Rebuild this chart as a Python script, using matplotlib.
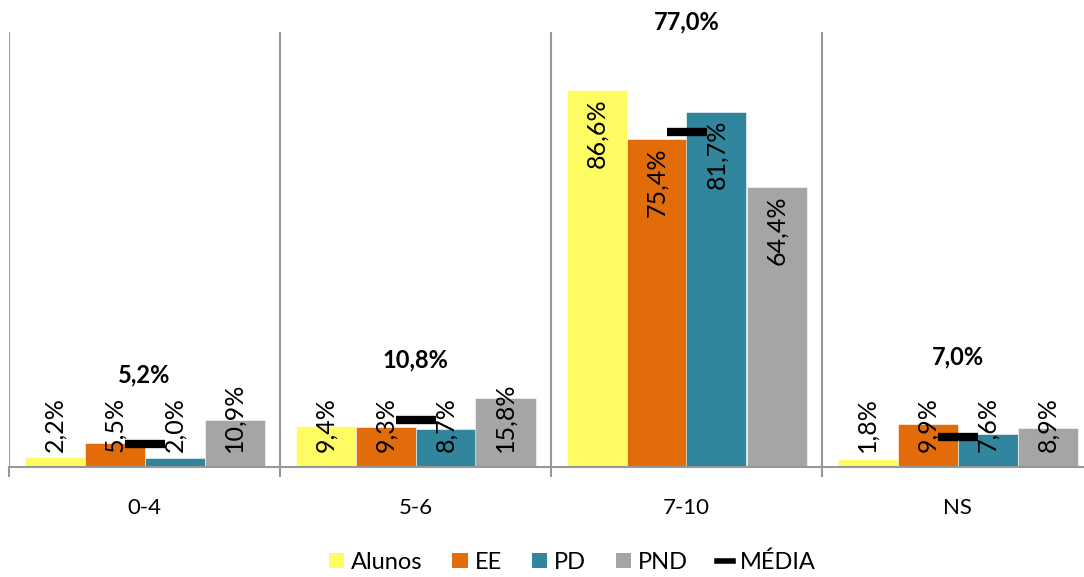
import numpy as np
import matplotlib.pyplot as plt
from matplotlib.lines import Line2D
from matplotlib.patches import Patch

plt.rcParams['font.family'] = ['Lato', 'DejaVu Sans']

# dados
categorias = ['0-4', '5-6', '7-10', 'NS']
series = ['Alunos', 'EE', 'PD', 'PND']
alunos = [2.2, 9.4, 86.6, 1.8]
ee = [5.5, 9.3, 75.4, 9.9]
pd_ = [2.0, 8.7, 81.7, 7.6]
pnd = [10.9, 15.8, 64.4, 8.9]
media = [5.2, 10.8, 77.0, 7.0]

valores = [alunos, ee, pd_, pnd]
cores = ['#FFFB62', '#E36C0A', '#31859C', '#A5A5A5']
# deslocamento vertical (pt) dos rótulos da média
desloc_media = [50, 43, 79, 57]


def fmt(v):
    return f'{v:.1f}%'.replace('.', ',')


fig = plt.figure(figsize=(10.84, 5.77), dpi=100)
ax = fig.add_axes([9 / 1084, 1 - 467 / 577, 1084 / 1084, 435 / 577])

x = np.arange(len(categorias))
w = 60 / 271

for j, (vals, cor) in enumerate(zip(valores, cores)):
    pos = x + (j - 1.5) * w
    ax.bar(pos, vals, width=w, color=cor, edgecolor='white', linewidth=0.4, zorder=2)
    for xi, v in zip(pos, vals):
        if v > 30:
            ax.annotate(fmt(v), (xi, v), xytext=(0, -6), textcoords='offset points',
                        rotation=90, ha='center', va='top', fontsize=18, zorder=4)
        else:
            ax.annotate(fmt(v), (xi, 0), xytext=(0, 11), textcoords='offset points',
                        rotation=90, ha='center', va='bottom', fontsize=18, zorder=4)

ax.plot(x, media, linestyle='none', marker='_', markersize=29, markeredgewidth=6,
        color='black', zorder=5)
for xi, m, d in zip(x, media, desloc_media):
    ax.annotate(fmt(m), (xi, m), xytext=(0, d), textcoords='offset points',
                ha='center', va='center', fontsize=17, fontweight='bold',
                annotation_clip=False)

ax.set_xlim(-0.5, 3.5)
ax.set_ylim(0, 100)
ax.set_yticks([])
ax.set_xticks(x)
ax.set_xticklabels(categorias, fontsize=16)
ax.tick_params(axis='x', which='major', length=0, pad=22)
ax.set_xticks([-0.5, 0.5, 1.5, 2.5], minor=True)
ax.tick_params(axis='x', which='minor', length=7, width=1.5, color='#989898')
ax.grid(which='minor', axis='x', color='#989898', linewidth=1.5, zorder=0)
for s in ['top', 'right', 'left']:
    ax.spines[s].set_visible(False)
ax.spines['bottom'].set_color('#989898')
ax.spines['bottom'].set_linewidth(1.5)
ax.spines['bottom'].set_zorder(3)

handles = [Patch(facecolor=c, label=s) for c, s in zip(cores, series)]
handles.append(Line2D([], [], color='black', linewidth=4, label='MÉDIA'))
fig.legend(handles=handles, loc='center', bbox_to_anchor=(0.528, 1 - 562 / 577),
           ncol=5, frameon=False, fontsize=17, handlelength=0.65, handleheight=0.65,
           handletextpad=0.3, columnspacing=1.25)

fig.savefig('out.png', dpi=100)
